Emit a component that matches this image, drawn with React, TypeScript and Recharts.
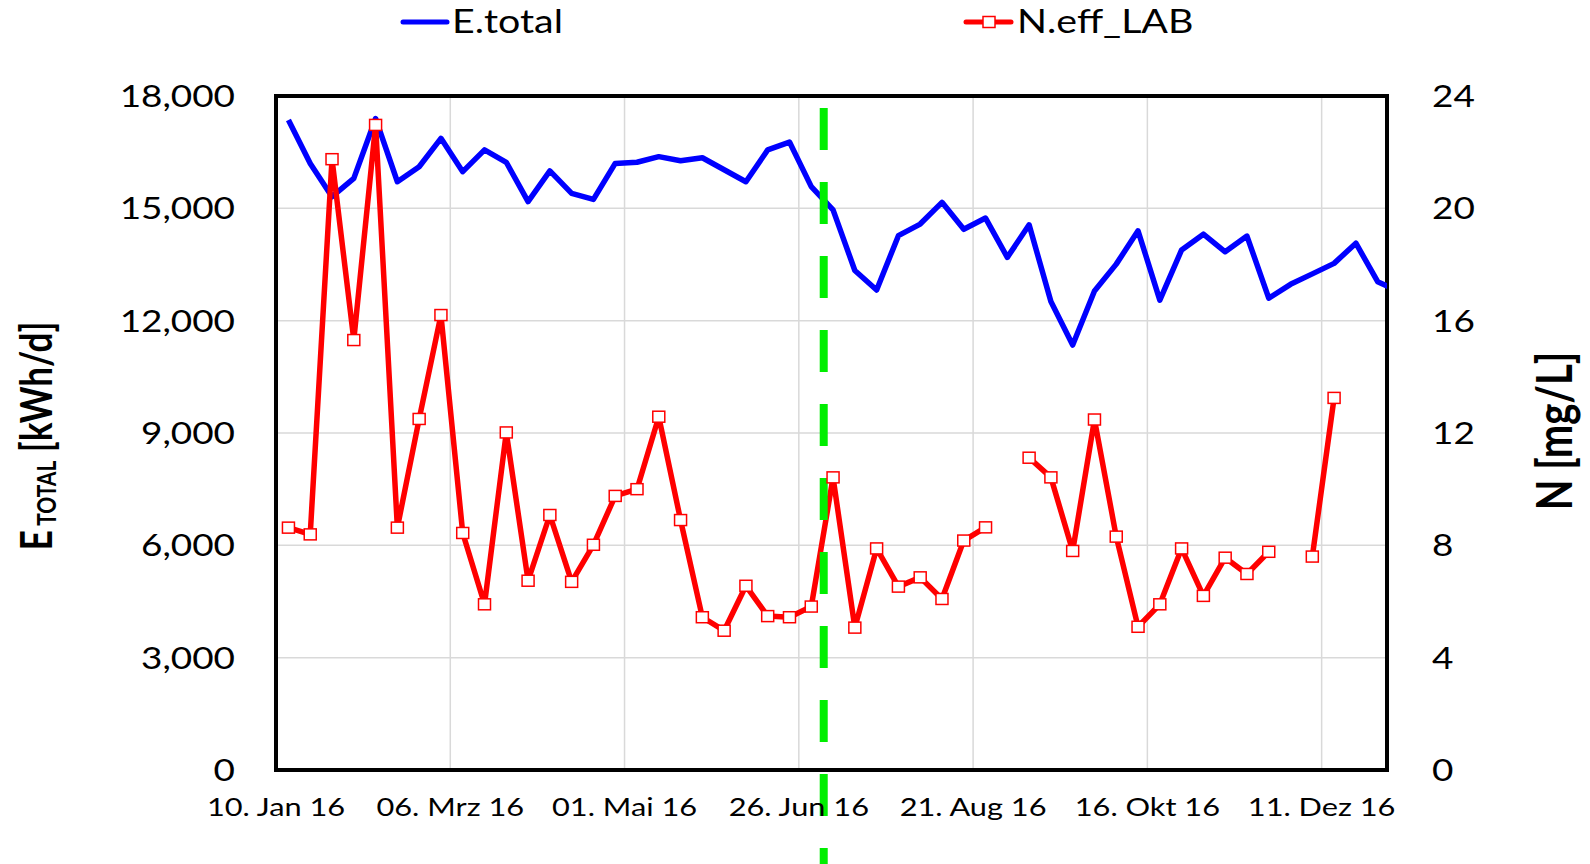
import React from 'react';
import {
  LineChart,
  Line,
  XAxis,
  YAxis,
  CartesianGrid,
  ReferenceLine,
  ReferenceArea,
  Legend,
} from 'recharts';

// ---------- data ----------
const dates = [
  '2016-01-14', '2016-01-21', '2016-01-28', '2016-02-04', '2016-02-11', '2016-02-18', '2016-02-25',
  '2016-03-03', '2016-03-10', '2016-03-17', '2016-03-24', '2016-03-31', '2016-04-07', '2016-04-14',
  '2016-04-21', '2016-04-28', '2016-05-05', '2016-05-12', '2016-05-19', '2016-05-26', '2016-06-02',
  '2016-06-09', '2016-06-16', '2016-06-23', '2016-06-30', '2016-07-07', '2016-07-14', '2016-07-21',
  '2016-07-28', '2016-08-04', '2016-08-11', '2016-08-18', '2016-08-25', '2016-09-01', '2016-09-08',
  '2016-09-15', '2016-09-22', '2016-09-29', '2016-10-06', '2016-10-13', '2016-10-20', '2016-10-27',
  '2016-11-03', '2016-11-10', '2016-11-17', '2016-11-24', '2016-12-01', '2016-12-08', '2016-12-15',
  '2016-12-22', '2016-12-29', '2017-01-05',
];

const eTotal = [
  17360, 16200, 15310, 15800, 17400, 15710, 16110, 16870, 15980, 16560, 16230, 15180, 16000, 15400,
  15240, 16200, 16230, 16380, 16270, 16350, 16030, 15710, 16560, 16770, 15580, 14960, 13340, 12820,
  14270, 14580, 15160, 14440, 14740, 13690, 14560, 12510, 11350, 12790, 13510, 14400, 12550, 13890,
  14310, 13840, 14260, 12600, 12970, 13250, 13530, 14070, 13040, 12770,
];

const nEffLab: (number | null)[] = [
  8.63, 8.39, 21.75, 15.31, 22.97, 8.63, 12.5, 16.2, 8.44, 5.9, 12.02, 6.74, 9.08, 6.7,
  8.02, 9.76, 10.0, 12.58, 8.9, 5.44, 4.96, 6.56, 5.48, 5.44, 5.82, 10.42, 5.07, 7.89,
  6.53, 6.86, 6.09, 8.17, 8.64, null, 11.12, 10.42, 7.8, 12.48, 8.31, 5.1, 5.9, 7.89,
  6.2, 7.56, 6.98, 7.77, null, 7.6, 13.25, null, null, null,
];

const axisStart = '2016-01-10';
const axisEnd = '2017-01-01';
const xTickDates = ['2016-01-10', '2016-03-06', '2016-05-01', '2016-06-26', '2016-08-21', '2016-10-16', '2016-12-11'];
const xTickLabels = ['10. Jan 16', '06. Mrz 16', '01. Mai 16', '26. Jun 16', '21. Aug 16', '16. Okt 16', '11. Dez 16'];
const leftTicks = [0, 3000, 6000, 9000, 12000, 15000, 18000];
const rightTicks = [0, 4, 8, 12, 16, 20, 24];
const markerDate = '2016-07-04';
const legendLabels = ['E.total', 'N.eff_LAB'];

// ---------- helpers ----------
const dayOf = (d: string) => Math.round((Date.parse(d) - Date.parse(axisStart)) / 86400000);
const data = dates.map((d, i) => ({ day: dayOf(d), eTotal: eTotal[i], nEff: nEffLab[i] }));
const xTickDays = xTickDates.map(dayOf);
const xLabelByDay: Record<number, string> = {};
xTickDays.forEach((d, i) => (xLabelByDay[d] = xTickLabels[i]));
const markerDay = dayOf(markerDate);
const endDay = dayOf(axisEnd);

const FONT = 'Lato, "Open Sans", "DejaVu Sans", sans-serif';
const SX = 1.23;
const BLUE = '#0000ff';
const RED = '#ff0000';
const GREEN = '#00ee00';

function SText(props: any) {
  const { x, y, anchor = 'start', size, weight = 400, children } = props;
  return (
    <text
      transform={`translate(${x},${y}) scale(${SX},1)`}
      textAnchor={anchor}
      fontSize={size}
      fontFamily={FONT}
      fontWeight={weight}
      fill="#000"
    >
      {children}
    </text>
  );
}

const LeftTick = (p: any) => (
  <g>
    <SText x={p.x} y={p.y + 11} anchor="end" size={30}>
      {Number(p.payload.value).toLocaleString('en-US')}
    </SText>
  </g>
);

const RightTick = (p: any) => (
  <g>
    <SText x={p.x} y={p.y + 11} anchor="start" size={30}>
      {String(p.payload.value)}
    </SText>
  </g>
);

const XTick = (p: any) => (
  <g>
    <SText x={p.x} y={p.y} anchor="middle" size={25}>
      {xLabelByDay[p.payload.value] ?? ''}
    </SText>
  </g>
);

const SquareDot = (p: any) => {
  if (p.cy == null || p.value == null || isNaN(p.cy)) return <g key={p.key} />;
  return (
    <rect
      key={p.key}
      x={p.cx - 6}
      y={p.cy - 5.5}
      width={12}
      height={11}
      fill="#fff"
      stroke={RED}
      strokeWidth={1.5}
    />
  );
};

const LeftTitle = (p: any) => {
  const vb = p.viewBox || { x: 0, y: 96, width: 276, height: 674 };
  const cx = vb.x + 52;
  const cy = vb.y + vb.height / 2 + 3;
  return (
    <text
      transform={`translate(${cx},${cy}) scale(${SX},1) rotate(-90)`}
      textAnchor="middle"
      fontFamily={FONT}
      fontWeight={700}
      fontSize={35}
      fill="#000"
    >
      E
      <tspan fontSize={21} dy={3}> TOTAL</tspan>
      <tspan dy={-3}> [kWh/d]</tspan>
    </text>
  );
};

const RightTitle = (p: any) => {
  const vb = p.viewBox || { x: 1387, y: 96, width: 203, height: 674 };
  const cx = vb.x + 185;
  const cy = vb.y + vb.height / 2 - 2;
  return (
    <text
      transform={`translate(${cx},${cy}) scale(${SX},1) rotate(-90)`}
      textAnchor="middle"
      fontFamily={FONT}
      fontWeight={700}
      fontSize={40}
      fill="#000"
    >
      N [mg/L]
    </text>
  );
};

const LegendContent = () => (
  <svg width={1590} height={50} style={{ display: 'block' }}>
    <line x1={403} y1={22} x2={447} y2={22} stroke={BLUE} strokeWidth={5} strokeLinecap="round" />
    <SText x={452} y={33} size={32}>{legendLabels[0]}</SText>
    <line x1={966} y1={22} x2={1011} y2={22} stroke={RED} strokeWidth={5} strokeLinecap="round" />
    <rect x={983} y={16.5} width={12} height={11} fill="#fff" stroke={RED} strokeWidth={1.5} />
    <SText x={1017} y={33} size={32}>{legendLabels[1]}</SText>
  </svg>
);

export default function App() {
  return (
    <div style={{ position: 'absolute', left: 0, top: 0, width: 1590, height: 864, background: '#fff' }}>
      <LineChart
        width={1590}
        height={864}
        data={data}
        margin={{ top: 96, right: 0, bottom: 0, left: 0 }}
      >
        <CartesianGrid
          yAxisId="left"
          stroke="#d9d9d9"
          strokeWidth={1.5}
          horizontalValues={leftTicks}
          verticalValues={xTickDays}
        />
        <XAxis
          dataKey="day"
          type="number"
          domain={[0, endDay]}
          ticks={xTickDays}
          interval={0}
          allowDataOverflow
          axisLine={false}
          tickLine={false}
          tickMargin={40}
          height={94}
          tick={XTick}
        />
        <YAxis
          yAxisId="left"
          orientation="left"
          domain={[0, 18000]}
          ticks={leftTicks}
          interval={0}
          width={276}
          axisLine={false}
          tickLine={false}
          tickMargin={35}
          tick={LeftTick}
          label={{ content: LeftTitle }}
        />
        <YAxis
          yAxisId="right"
          orientation="right"
          domain={[0, 24]}
          ticks={rightTicks}
          interval={0}
          width={203}
          axisLine={false}
          tickLine={false}
          tickMargin={39}
          tick={RightTick}
          label={{ content: RightTitle }}
        />
        <Legend
          layout="horizontal"
          verticalAlign="middle"
          align="center"
          wrapperStyle={{ top: 0, left: 0, width: 1590, height: 50 }}
          content={LegendContent}
        />
        <Line
          yAxisId="left"
          dataKey="eTotal"
          name={legendLabels[0]}
          stroke={BLUE}
          strokeWidth={5.5}
          strokeLinejoin="round"
          dot={false}
          activeDot={false}
          isAnimationActive={false}
        />
        <Line
          yAxisId="right"
          dataKey="nEff"
          name={legendLabels[1]}
          stroke={RED}
          strokeWidth={5.5}
          strokeLinejoin="round"
          connectNulls={false}
          dot={SquareDot}
          activeDot={false}
          isAnimationActive={false}
        />
        <ReferenceArea
          yAxisId="left"
          x1={0}
          x2={endDay}
          y1={0}
          y2={18000}
          fill="none"
          fillOpacity={0}
          stroke="#000"
          strokeWidth={4}
          ifOverflow="visible"
        />
        <ReferenceLine
          yAxisId="right"
          segment={[
            { x: markerDay, y: 23.57 },
            { x: markerDay, y: -3.4 },
          ]}
          stroke={GREEN}
          strokeWidth={8}
          strokeDasharray="42 32"
          ifOverflow="visible"
        />
      </LineChart>
    </div>
  );
}
